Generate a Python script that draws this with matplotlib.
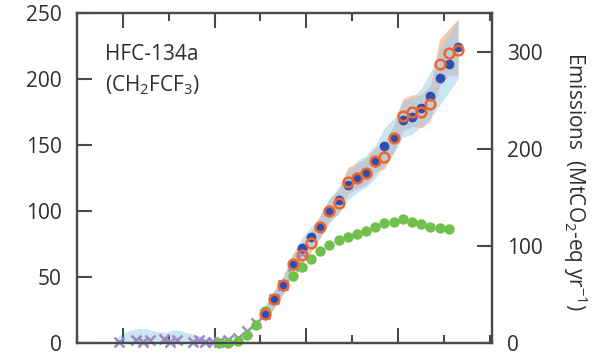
import matplotlib
matplotlib.use('Agg')
import matplotlib.pyplot as plt
import numpy as np

plt.rcParams['font.family'] = ['Open Sans', 'DejaVu Sans']
plt.rcParams['mathtext.default'] = 'regular'

# early archived-air estimates (purple crosses)
purple_years = [1979.6, 1981.4, 1982.2, 1983.0, 1984.5, 1985.2, 1985.9, 1987.6, 1988.3, 1989.0, 1989.8,
                1990.5, 1991.5, 1992.5, 1993.5, 1994.5, 1995.5, 1996.5, 1997.5, 1998.5, 1999.5]
purple_vals = [1, 2, 1, 2, 3, 1, 2, 1, 2, 1, 1,
               1, 2, 4, 9, 15, 22, 33, 44, 58, 68]

# reported emissions (green)
green_years = np.arange(1990.5, 2016, 1.0)
green_vals = [0, 0, 1.5, 6, 14, 24, 33, 44, 51, 57.6, 63.6, 69.7, 74.5, 78, 80, 82.5,
              85, 88, 91, 92, 94, 92, 90.5, 88, 87, 86.5]

# top-down estimates (blue filled, orange open)
est_years = np.arange(1995.5, 2017, 1.0)
blue_vals = [22, 33, 43, 60, 72, 80, 88, 100, 108, 120, 126, 129, 137, 149, 155, 169, 171, 178, 187, 201, 211, 224]
orange_vals = [22, 33, 44, 60, 67, 76, 88, 100, 106, 122, 125, 129, 138, 141, 155, 172, 175, 175, 181, 211, 220, 222]

blue_lo = [17, 27, 37, 52, 63, 72, 80, 91, 98, 108, 114, 118, 125, 135, 143, 156, 158, 164, 170, 180, 190, 200]
blue_hi = [27, 39, 50, 67, 80, 88, 96, 109, 118, 130, 138, 142, 150, 163, 170, 183, 186, 193, 205, 222, 234, 245]
orange_lo = [16, 27, 38, 54, 60, 69, 80, 92, 98, 113, 117, 120, 129, 132, 145, 161, 164, 163, 168, 195, 203, 203]
orange_hi = [28, 40, 51, 67, 75, 84, 97, 109, 116, 133, 136, 140, 148, 151, 165, 185, 188, 188, 195, 230, 238, 245]

# early uncertainty band
early_years = [1979.0, 1979.5, 1980.5, 1981.5, 1982.5, 1983.5, 1984.5, 1985.5, 1986.5, 1987.5, 1988.5, 1989.5, 1990.5]
early_hi = [0, 5, 9, 11, 11, 9, 8, 10, 9, 7, 5, 3, 2]

c_blue = '#2b4fb0'
c_orange = '#ee6530'
c_green = '#6fc14b'
c_purple = '#9c89c8'
c_band_blue = '#cbe6f3'
c_band_orange = '#f6c8ab'
c_band_both = '#c2cad2'
c_axis = '#4a4a4a'
c_text = '#2e2e2e'

fig = plt.figure(figsize=(6.05, 3.56), dpi=100)
ax = fig.add_axes([0.127, 0.0365, 0.686, 0.927])
ax2 = ax.twinx()

# bands
ax.fill_between(early_years, 0, early_hi, color=c_band_blue, lw=0, zorder=1)
ax.fill_between(est_years, blue_lo, blue_hi, color=c_band_blue, lw=0, zorder=1)
ax.fill_between(est_years, orange_lo, orange_hi, color=c_band_orange, lw=0, zorder=1)
lo_both = np.maximum(blue_lo, orange_lo)
hi_both = np.minimum(blue_hi, orange_hi)
ax.fill_between(est_years, lo_both, hi_both, where=hi_both > lo_both, color=c_band_both, lw=0, zorder=2)

# points
ax.plot(purple_years, purple_vals, 'x', color=c_purple, ms=7, mew=1.8, zorder=3, clip_on=False)
ax.plot(green_years, green_vals, 'o', color=c_green, ms=7.5, mew=0, zorder=4, clip_on=False)
ax.plot(est_years, blue_vals, 'o', color=c_blue, ms=7, mew=0, zorder=5)
ax.plot(est_years, orange_vals, 'o', mfc='none', mec=c_orange, ms=7, mew=1.8, zorder=6)

ax.set_xlim(1975, 2020.2)
ax.set_ylim(0, 250)
ax2.set_ylim(0, 340)

ax.set_xticks([1980, 1990, 2000, 2010])
ax.set_xticks([1975, 1985, 1995, 2005, 2015, 2020], minor=True)
ax.set_yticks([0, 50, 100, 150, 200, 250])
ax2.set_yticks([0, 100, 200, 300])

ax.tick_params(axis='x', which='both', direction='in', top=True, bottom=True,
               labelbottom=False, width=1.5, color=c_axis)
ax.tick_params(axis='x', which='major', length=10.5)
ax.tick_params(axis='x', which='minor', length=6)
ax.tick_params(axis='y', direction='in', length=10.5, width=1.5, color=c_axis,
               labelsize=15, labelcolor=c_text, pad=11)
ax2.tick_params(axis='y', direction='in', length=10.5, width=1.5, color=c_axis,
                labelsize=15, labelcolor=c_text, pad=11)

for a in (ax, ax2):
    for s in a.spines.values():
        s.set_linewidth(1.6)
        s.set_color(c_axis)

ax.text(0.067, 0.873, 'HFC-134a', transform=ax.transAxes, fontsize=15,
        color=c_text, ha='left', va='center')
ax.text(0.067, 0.782, '(CH$_2$FCF$_3$)', transform=ax.transAxes, fontsize=15,
        color=c_text, ha='left', va='center')

fig.text(575 / 605, 0.49, 'Emissions  (MtCO$_2$-eq yr$^{\u22121}$)', rotation=270,
         ha='center', va='center', fontsize=15, color=c_text)

fig.savefig('out.png', dpi=100)
